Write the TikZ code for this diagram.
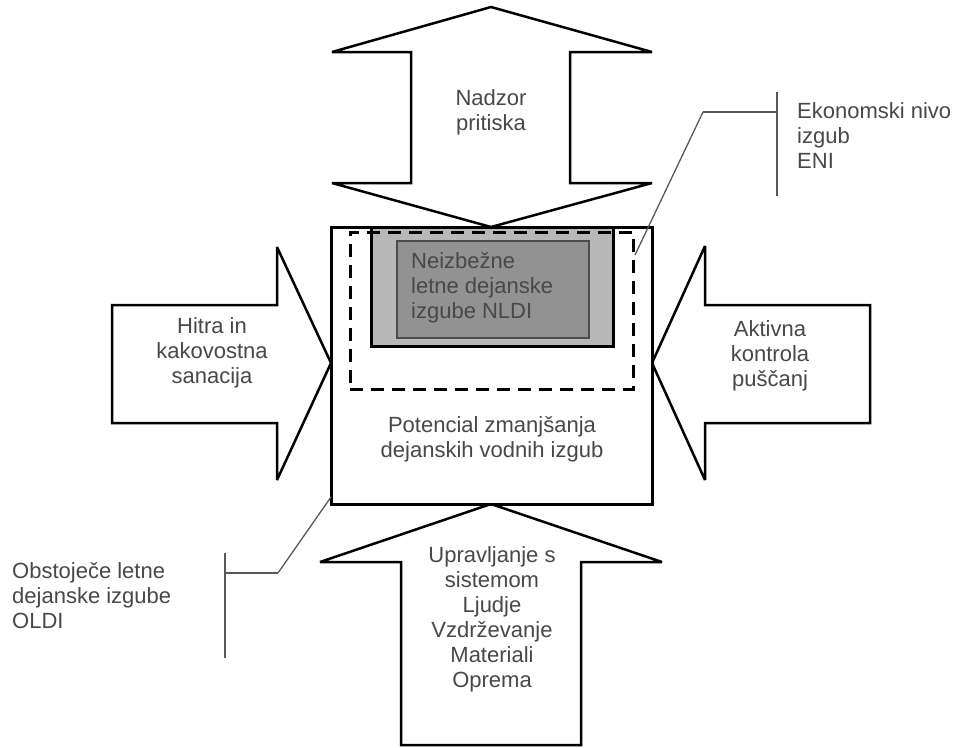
\documentclass[tikz,border=0pt]{standalone}
\usepackage{fontspec}
\setmainfont{Liberation Sans}
\definecolor{lossLight}{RGB}{184,184,184}
\definecolor{lossDark}{RGB}{146,146,146}
\definecolor{textGray}{RGB}{72,72,72}
\tikzset{
	blockarrow/.style={draw=black, fill=white, line width=2.5pt, miter limit=3},
	lbl/.style={text=textGray, font=\fontsize{22}{25}\selectfont, align=center, inner sep=0pt},
	leader/.style={draw=black!65, line width=1.3pt}
}
\newcommand{\labelText}[5][]{
	\path (#2,#3) node[lbl, #1](#4){#5};
}
\newcommand{\leader}[2]{
	\draw[leader] (#1) -- (#2);
}

\begin{document}
\begin{tikzpicture}[x=1pt, y=-1pt]
	\useasboundingbox (0,0) rectangle (953,747);

	\draw[blockarrow] (491,7) -- (652,52) -- (570,52) -- (570,183) -- (652,183) -- (491,227)
		-- (332,183) -- (411,183) -- (411,52) -- (332,52) -- cycle;
	\draw[blockarrow] (491,504) -- (662,562) -- (581,562) -- (581,745) -- (401,745) -- (401,562)
		-- (320,562) -- cycle;
	\draw[blockarrow] (331,363) -- (277,480) -- (277,423) -- (112,423) -- (112,305) -- (277,305)
		-- (277,247) -- cycle;
	\draw[blockarrow] (652,363) -- (705,480) -- (705,423) -- (870,423) -- (870,305) -- (705,305)
		-- (705,246) -- cycle;

	\path (491.5,365.5) node[draw, line width=3pt, fill=white, minimum width=321pt, minimum height=277pt](mainBox){};
	\path (492,286.5) node[draw, line width=3pt, fill=lossLight, minimum width=242pt, minimum height=119pt](nldiBox){};
	\path (493,289.5) node[draw=black!70, line width=1.3pt, fill=lossDark, minimum width=192pt, minimum height=97pt](nldiCore){};
	\path (491.5,310.5) node[draw, line width=3pt, dash pattern=on 13pt off 8pt, minimum width=283pt, minimum height=157pt](eniBox){};

	\labelText{491}{112}{nadzor}{Nadzor\\pritiska}
	\labelText{212}{353}{sanacija}{Hitra in\\kakovostna\\sanacija}
	\labelText{770}{356}{kontrola}{Aktivna\\kontrola\\puščanj}
	\labelText[anchor=west, align=left]{411}{288}{nldi}{Neizbežne\\letne dejanske\\izgube NLDI}
	\labelText{492}{439}{potencial}{Potencial zmanjšanja\\dejanskih vodnih izgub}
	\labelText[anchor=west, align=left]{797}{136}{eni}{Ekonomski nivo\\izgub\\ENI}
	\labelText[anchor=west, align=left]{12}{596}{oldi}{Obstoječe letne\\dejanske izgube\\OLDI}
	\labelText{492}{619}{upravljanje}{Upravljanje s\\sistemom\\Ljudje\\Vzdrževanje\\Materiali\\Oprema}

	\coordinate (eniFoot) at (635,255);
	\coordinate (eniBend) at (703,112);
	\coordinate (eniBar) at (777,112);
	\coordinate (eniBarTop) at (777,92);
	\coordinate (eniBarEnd) at (777,196);
	\leader{eniFoot}{eniBend};
	\leader{eniBend}{eniBar};
	\leader{eniBarTop}{eniBarEnd};

	\coordinate (oldiFoot) at (331,497);
	\coordinate (oldiBend) at (278,573);
	\coordinate (oldiBar) at (225,573);
	\coordinate (oldiBarTop) at (225,553);
	\coordinate (oldiBarEnd) at (225,658);
	\leader{oldiFoot}{oldiBend};
	\leader{oldiBend}{oldiBar};
	\leader{oldiBarTop}{oldiBarEnd};
\end{tikzpicture}
\end{document}
